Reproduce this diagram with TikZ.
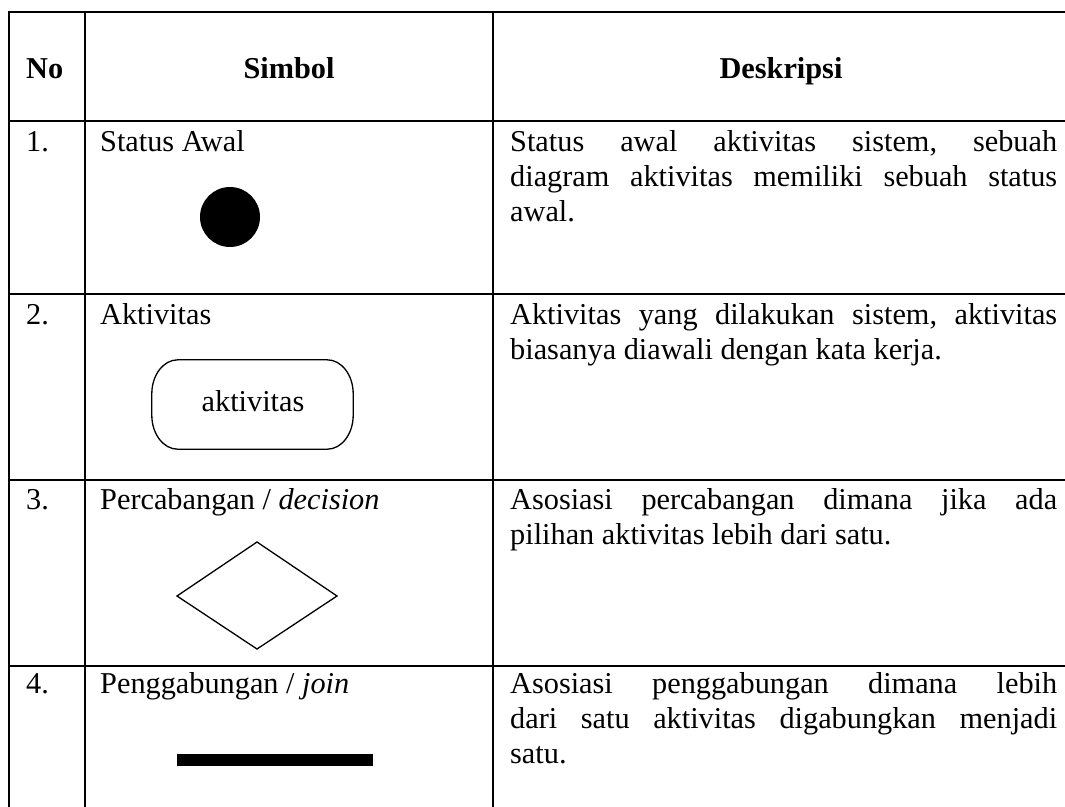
\documentclass[tikz,border=0pt]{standalone}
\usepackage{fontspec}
\setmainfont{Liberation Serif}
\newcommand\bodyfont{\fontsize{30.3}{35}\selectfont}
% justified description paragraph, first baseline at the node's base
\newcommand\desctext[1]{\parbox[t]{547pt}{\bodyfont\frenchspacing\hyphenpenalty=10000 \tolerance=10000 \emergencystretch=0pt #1}}
\begin{document}
\begin{tikzpicture}[x=1pt,y=-1pt,
  grid/.style={line width=2.5pt,line cap=rect,line join=miter},
  symline/.style={line width=1.3pt},
  txt/.style={inner sep=0pt,anchor=base west,font=\bodyfont},
  hdr/.style={inner sep=0pt,anchor=base,font=\bodyfont\bfseries},
  corner/.style={x radius=26pt,y radius=34pt}]
\useasboundingbox (0,0) rectangle (1065,806);
\clip (0,0) rectangle (1065,806);
\fill[white] (0,0) rectangle (1065,806);

% table rules
\draw[grid] (9,815) -- (9,12) -- (1075,12);
\draw[grid] (85,12) -- (85,815);
\draw[grid] (493,12) -- (493,815);
\foreach \yy in {121,294,480,666}
  \draw[grid] (9,\yy) -- (1075,\yy);

% header
\node[hdr,anchor=base west] (hno) at (26,78) {No};
\node[hdr] (hsim) at (289,78) {Simbol};
\node[hdr] (hdes) at (781,78) {Deskripsi};

% row 1: initial state
\node[txt] (n1) at (26,151) {1.};
\node[txt] (s1) at (100,151) {Status Awal};
\node[circle,fill=black,minimum size=60pt,inner sep=0pt] (awal) at (230,217) {};
\node[txt] (d1) at (510,151) {\desctext{Status awal aktivitas sistem, sebuah\linebreak diagram aktivitas memiliki sebuah status\linebreak awal.}};

% row 2: activity (box with oval corners)
\node[txt] (n2) at (26,324) {2.};
\node[txt] (s2) at (100,324) {Aktivitas};
\node[minimum width=201pt,minimum height=89pt,inner sep=0pt] (akt) at (252.5,404.5) {};
\draw[symline] ([xshift=26pt]akt.north west) -- ([xshift=-26pt]akt.north east)
  arc[start angle=90,end angle=0,corner]
  -- ([yshift=34pt]akt.south east)
  arc[start angle=0,end angle=-90,corner]
  -- ([xshift=26pt]akt.south west)
  arc[start angle=270,end angle=180,corner]
  -- ([yshift=-34pt]akt.north west)
  arc[start angle=180,end angle=90,corner] -- cycle;
\node[txt,anchor=base] (aktl) at (253,411) {aktivitas};
\node[txt] (d2) at (510,324) {\desctext{Aktivitas yang dilakukan sistem, aktivitas\linebreak biasanya diawali dengan kata kerja.}};

% row 3: decision
\node[txt] (n3) at (26,509) {3.};
\node[txt] (s3) at (100,509) {Percabangan / \textit{decision}};
\coordinate (dl) at (177,596);
\coordinate (dt) at (257,542);
\coordinate (dr) at (337,596);
\coordinate (db) at (257,649);
\draw[symline,line join=miter] (dl) -- (dt) -- (dr) -- (db) -- cycle;
\node[txt] (d3) at (510,509) {\desctext{Asosiasi percabangan dimana jika ada\linebreak pilihan aktivitas lebih dari satu.}};

% row 4: join
\node[txt] (n4) at (26,693) {4.};
\node[txt] (s4) at (100,693) {Penggabungan / \textit{join}};
\node[fill=black,minimum width=196pt,minimum height=12pt,inner sep=0pt] (bar) at (275,760) {};
\node[txt] (d4) at (510,693) {\desctext{Asosiasi penggabungan dimana lebih\linebreak dari satu aktivitas digabungkan menjadi\linebreak satu.}};
\end{tikzpicture}
\end{document}
